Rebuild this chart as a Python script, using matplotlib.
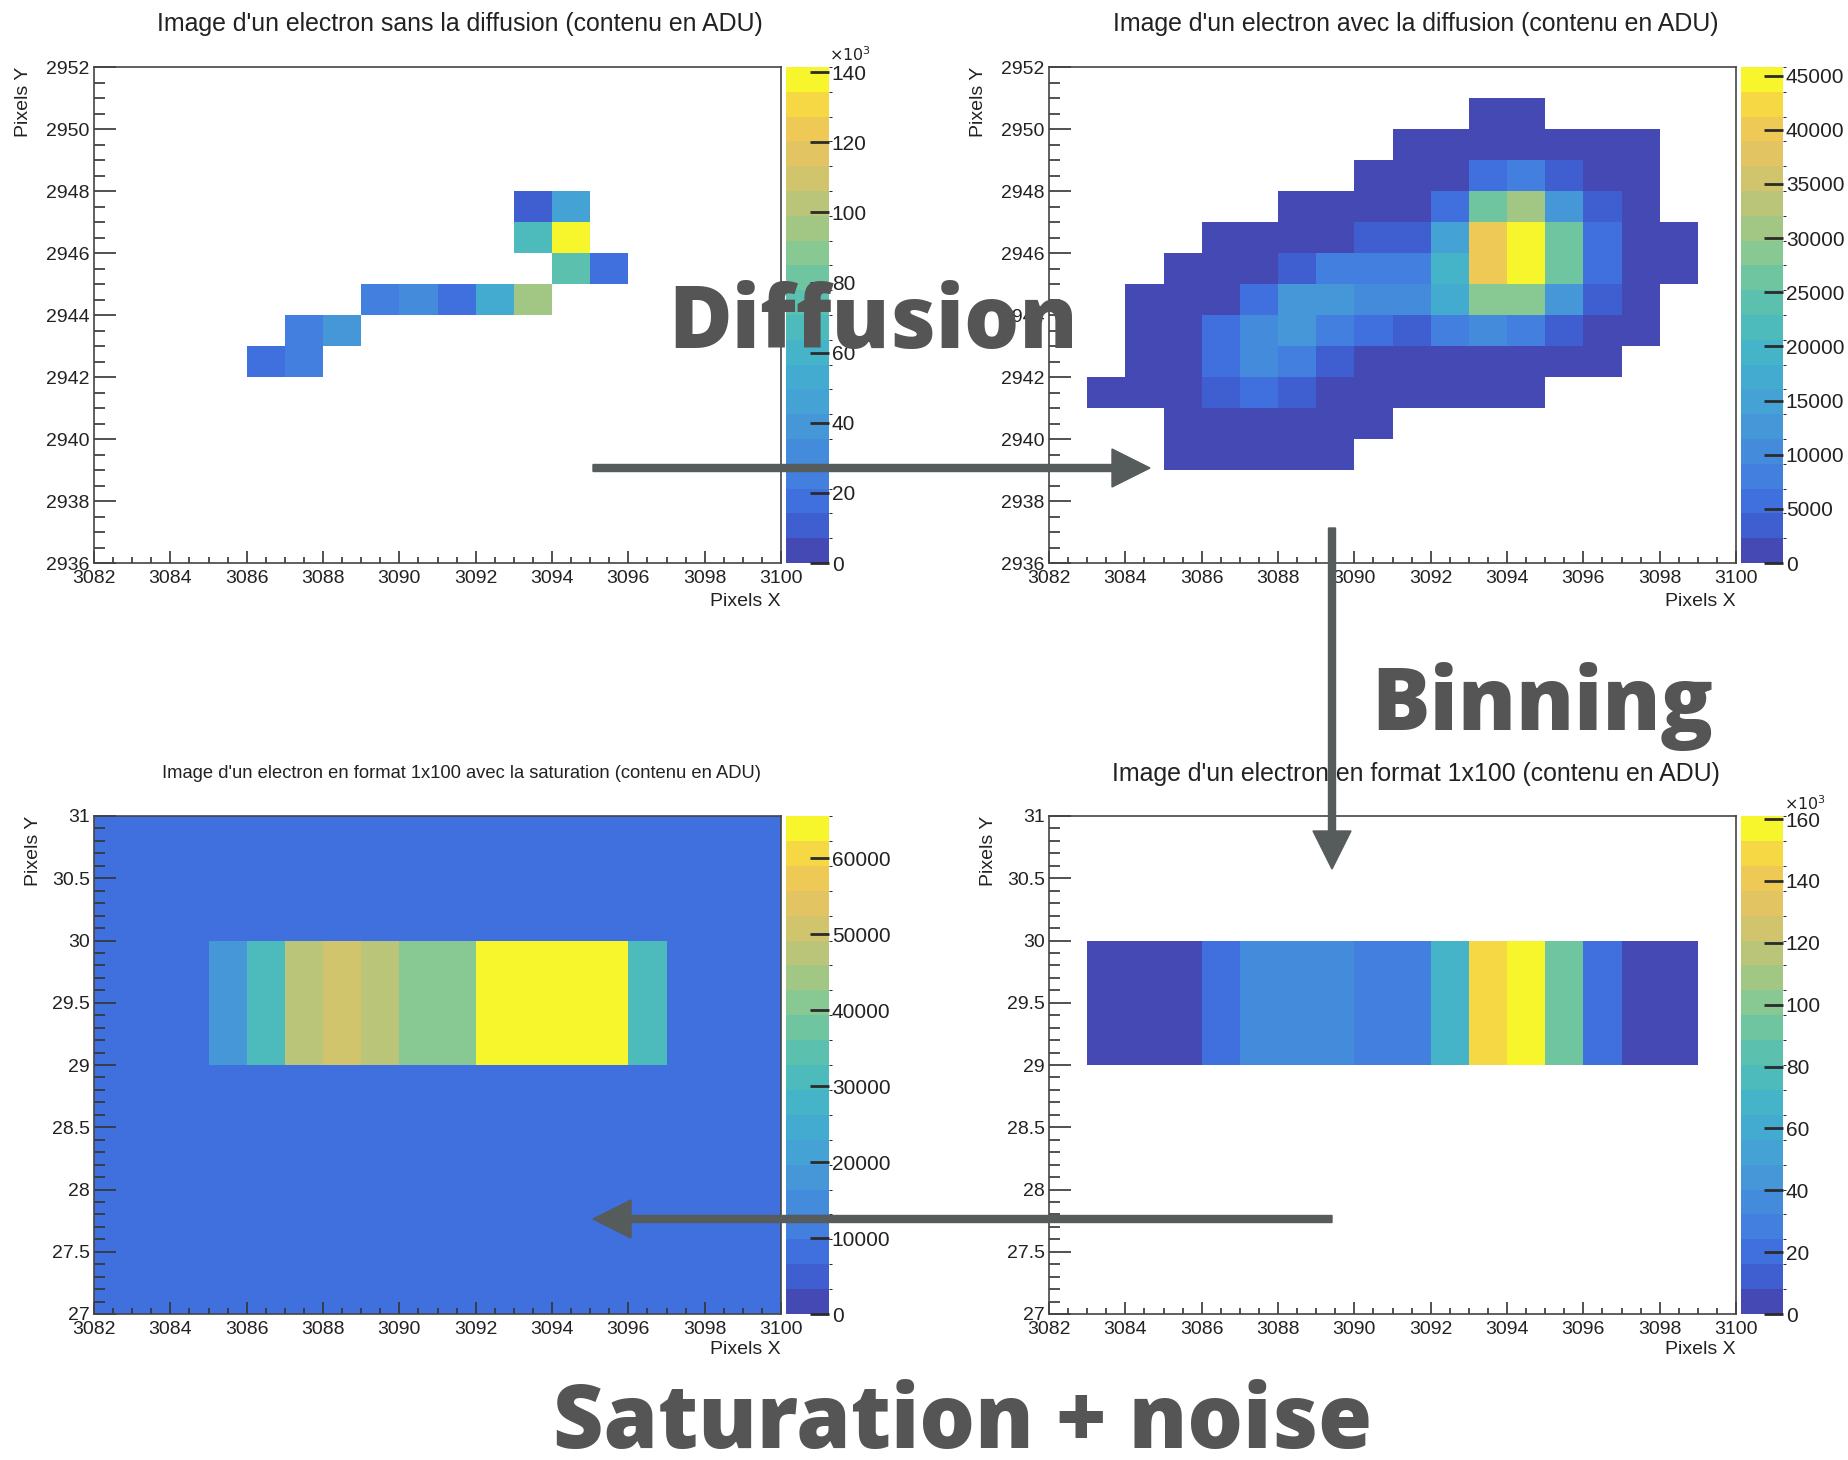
import numpy as np
import matplotlib
matplotlib.use('Agg')
import matplotlib.pyplot as plt
from matplotlib.colors import ListedColormap, BoundaryNorm
from matplotlib.patches import FancyArrow
from matplotlib.transforms import IdentityTransform
from matplotlib.ticker import MultipleLocator, FuncFormatter

W, H = 1848, 1460
plt.rcParams['font.family'] = ['Liberation Sans', 'DejaVu Sans']

# 1) sans diffusion : pixels touches et contenu en ADU
nodiff_x = [3093, 3094, 3093, 3094, 3094, 3095, 3089, 3090, 3091, 3092, 3093, 3087, 3088, 3086, 3087]
nodiff_y = [2947, 2947, 2946, 2946, 2945, 2945, 2944, 2944, 2944, 2944, 2944, 2943, 2943, 2942, 2942]
nodiff_adu = [10500, 46000, 67000, 141500, 74000, 20000, 22000, 30000, 20000, 53000, 95000,
              22000, 40000, 14500, 22000]

# 2) avec diffusion : colonnes 3083..3098, lignes 2950 -> 2939 (0 = vide)
diff_x = list(range(3083, 3099))
diff_y = list(range(2950, 2938, -1))
diff_adu = [
    [0, 0, 0, 0, 0, 0, 0, 0, 0, 0, 1000, 1000, 0, 0, 0, 0],
    [0, 0, 0, 0, 0, 0, 0, 0, 1000, 1000, 1000, 1000, 1000, 1000, 1000, 0],
    [0, 0, 0, 0, 0, 0, 0, 1000, 1000, 1000, 5800, 8000, 3500, 1000, 1000, 0],
    [0, 0, 0, 0, 0, 1000, 1000, 1000, 1000, 5800, 26000, 31000, 12600, 3500, 1000, 0],
    [0, 0, 0, 1000, 1000, 1000, 1000, 3500, 3500, 15000, 40000, 45800, 26000, 5800, 1000, 1000],
    [0, 0, 1000, 1000, 1000, 3500, 8000, 8000, 8000, 19500, 40000, 45800, 26000, 5800, 1000, 1000],
    [0, 1000, 1000, 1000, 5800, 12600, 12600, 10300, 10300, 17000, 28500, 28500, 12600, 3500, 1000, 0],
    [0, 1000, 1000, 5800, 10300, 12600, 8000, 5800, 3500, 8000, 10300, 8000, 3500, 1000, 1000, 0],
    [0, 1000, 1000, 5800, 10300, 8000, 3500, 1000, 1000, 1000, 1000, 1000, 1000, 1000, 0, 0],
    [1000, 1000, 1000, 4500, 5800, 3500, 1000, 1000, 1000, 1000, 1000, 1000, 0, 0, 0, 0],
    [0, 0, 1000, 1000, 1000, 1000, 1000, 1000, 0, 0, 0, 0, 0, 0, 0, 0],
    [0, 0, 1000, 1000, 1000, 1000, 1000, 0, 0, 0, 0, 0, 0, 0, 0, 0],
]

# 3) binning 1x100 (ligne y = 29)
bin_x = list(range(3083, 3099))
bin_adu = [4000, 4000, 4000, 20000, 36000, 36000, 36000, 28000, 28000, 72000,
           150000, 161000, 92000, 20000, 4000, 4000]

# 4) saturation + bruit (ligne du signal y = 29, bruit ailleurs)
sat_x = list(range(3082, 3100))
sat_rows = [27, 28, 29, 30]
sat_noise = 8200
sat_adu = [8200, 8200, 8200, 17000, 31000, 47500, 51500, 47500, 41000, 41000,
           65535, 65535, 65535, 65535, 31000, 8200, 8200, 8200]

# palette "bird" de ROOT, 20 niveaux
bird = ListedColormap([
    '#4449b4', '#3f5ed0', '#4070dd', '#437fdf', '#458bdc', '#4597d8', '#44a2d4',
    '#43abd0', '#46b4c8', '#4dbbbc', '#5bc0ae', '#6ec5a0', '#88c892', '#a2c785',
    '#bbc57a', '#d0c46d', '#e2c562', '#eec956', '#f5d843', '#f7f52c'])

fig = plt.figure(figsize=(W / 100, H / 100), dpi=100)


def rect(l, r, t, b):
    return [l / W, 1 - b / H, (r - l) / W, (b - t) / H]


def ftext(x, y, s, **kw):
    return fig.text(x / W, 1 - y / H, s, **kw)


def panel(box, cbox, xe, ye, z, vmax, step, ylim, ymaj, ymin, kilo=False):
    ax = fig.add_axes(rect(*box))
    cax = fig.add_axes(rect(*cbox))
    z = np.ma.masked_less_equal(np.asarray(z, float), 0)
    norm = BoundaryNorm(np.linspace(0, vmax, 21), 20)
    m = ax.pcolormesh(xe, ye, z, cmap=bird, norm=norm, linewidth=0)
    ax.set_xlim(3082, 3100)
    ax.set_ylim(*ylim)
    ax.xaxis.set_major_locator(MultipleLocator(2))
    ax.xaxis.set_minor_locator(MultipleLocator(0.5))
    ax.yaxis.set_major_locator(MultipleLocator(ymaj))
    ax.yaxis.set_minor_locator(MultipleLocator(ymin))
    ax.yaxis.set_major_formatter(FuncFormatter(lambda v, p: f'{v:g}'))
    ax.tick_params(which='both', direction='in', top=False, right=False,
                   color='#333333', width=1.2, labelsize=14, labelcolor='#222222')
    ax.tick_params(axis='x', which='major', length=9, pad=5)
    ax.tick_params(axis='x', which='minor', length=4)
    ax.tick_params(axis='y', which='major', length=16, pad=3)
    ax.tick_params(axis='y', which='minor', length=8)
    for s in ax.spines.values():
        s.set_color('#444444')
        s.set_linewidth(1.2)
    cb = fig.colorbar(m, cax=cax, ticks=np.arange(0, vmax, step))
    cb.outline.set_visible(False)
    cax.tick_params(direction='in', length=14, width=2, color='#2b2b2b',
                    labelsize=15, labelcolor='#222222', pad=2)
    if kilo:
        cb.formatter = FuncFormatter(lambda v, p: f'{v / 1000:g}')
        cb.update_ticks()
    return ax


# haut gauche : sans diffusion
grid1 = np.zeros((16, 18))
for x, y, v in zip(nodiff_x, nodiff_y, nodiff_adu):
    grid1[y - 2936, x - 3082] = v
panel((94, 781, 67, 563), (786, 829, 67, 563), np.arange(3082, 3101), np.arange(2936, 2953),
      grid1, 141500, 20000, (2936, 2952), 2, 0.5, kilo=True)

# haut droite : avec diffusion
xe2 = np.arange(diff_x[0], diff_x[-1] + 2)
ye2 = np.arange(diff_y[-1], diff_y[0] + 2)
panel((1049, 1736, 67, 563), (1741, 1783, 67, 563), xe2, ye2,
      np.array(diff_adu)[::-1], 45800, 5000, (2936, 2952), 2, 0.5)

# bas gauche : saturation + bruit
grid3 = np.full((len(sat_rows), len(sat_x)), float(sat_noise))
grid3[sat_rows.index(29)] = sat_adu
panel((94, 781, 816, 1314), (786, 829, 816, 1314), np.arange(sat_x[0], sat_x[-1] + 2),
      np.arange(sat_rows[0], sat_rows[-1] + 2), grid3, 65535, 10000, (27, 31), 0.5, 0.1)

# bas droite : binning
panel((1049, 1736, 816, 1314), (1741, 1783, 816, 1314), np.arange(bin_x[0], bin_x[-1] + 2),
      [29, 30], [bin_adu], 161000, 20000, (27, 31), 0.5, 0.1, kilo=True)

# titres et axes
tcol = '#222222'
ftext(460, 24, "Image d'un electron sans la diffusion (contenu en ADU)", ha='center', va='center',
      fontsize=17.9, color=tcol)
ftext(1416, 24, "Image d'un electron avec la diffusion (contenu en ADU)", ha='center', va='center',
      fontsize=17.9, color=tcol)
ftext(461, 774, "Image d'un electron en format 1x100 avec la saturation (contenu en ADU)",
      ha='center', va='center', fontsize=13.2, color=tcol)
ftext(1416, 774, "Image d'un electron en format 1x100 (contenu en ADU)", ha='center', va='center',
      fontsize=17.9, color=tcol)
for xr, yb in [(781, 601), (1736, 601), (781, 1350), (1736, 1350)]:
    ftext(xr, yb, 'Pixels X', ha='right', va='center', fontsize=14, color=tcol)
for xl, yt in [(24, 67), (978, 67), (33, 816), (988, 816)]:
    ftext(xl, yt, 'Pixels Y', ha='center', va='top', rotation=90, fontsize=14, color=tcol)
ftext(829, 64, r'$\times10^3$', ha='left', va='bottom', fontsize=11.5, color=tcol)
ftext(1784, 813, r'$\times10^3$', ha='left', va='bottom', fontsize=11.5, color=tcol)


# fleches
def arrow(x0, y0, x1, y1):
    a = FancyArrow(x0, H - y0, x1 - x0, y0 - y1, width=7, head_width=38, head_length=38,
                   length_includes_head=True, color='#565b5b', transform=IdentityTransform(),
                   zorder=10)
    fig.add_artist(a)


arrow(593, 468, 1150, 468)
arrow(1332, 528, 1332, 869)
arrow(1332, 1219, 593, 1219)

gris = '#555555'
ftext(873, 348, 'Diffusion', ha='center', va='baseline', fontsize=62.5, fontweight=800,
      family='Open Sans', color=gris, zorder=11)
ftext(1542, 730, 'Binning', ha='center', va='baseline', fontsize=62.5, fontweight=800,
      family='Open Sans', color=gris, zorder=11)
ftext(963, 1448, 'Saturation + noise', ha='center', va='baseline', fontsize=63, fontweight=800,
      family='Open Sans', color=gris, zorder=11)

fig.savefig('out.png', dpi=100)
